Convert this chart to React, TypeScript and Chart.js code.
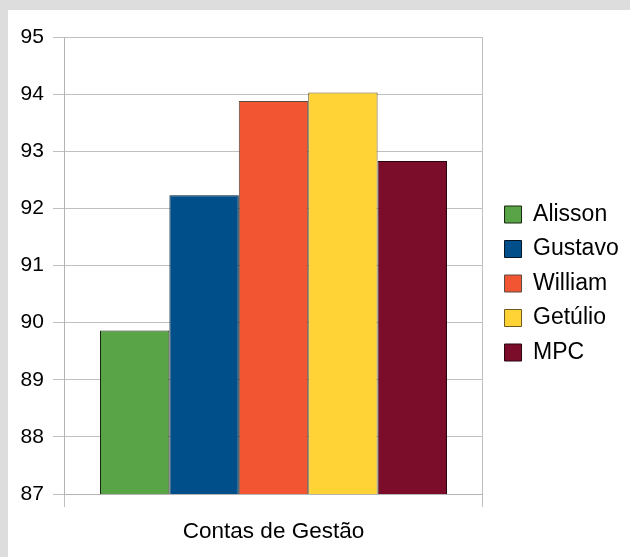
import React, { useEffect, useRef } from "react";
import { Chart, registerables } from "chart.js";

Chart.register(...registerables);

const categories: string[] = ["Contas de Gestão"];
const seriesNames: string[] = ["Alisson", "Gustavo", "William", "Getúlio", "MPC"];
const seriesValues: number[] = [89.86, 92.23, 93.88, 94.03, 92.83];
const seriesColors: string[] = ["#59a446", "#004f8a", "#f15532", "#ffd236", "#7b0c2a"];
const seriesBorders: string[] = ["#16260f", "#001526", "#5a4a42", "#6b5a20", "#2a0510"];
const yTicks: number[] = [87, 88, 89, 90, 91, 92, 93, 94, 95];

export default function App() {
  const ref = useRef<HTMLCanvasElement | null>(null);

  useEffect(() => {
    if (!ref.current) return;
    const family = "'Liberation Sans', Arial, sans-serif";
    const chart = new Chart(ref.current, {
      type: "bar",
      data: {
        labels: categories,
        datasets: seriesNames.map((name, i) => ({
          label: name,
          data: [seriesValues[i]],
          backgroundColor: seriesColors[i],
          borderColor: seriesBorders[i],
          borderWidth: 1,
          categoryPercentage: 0.832,
          barPercentage: 1.0,
        })),
      },
      options: {
        animation: false,
        responsive: false,
        maintainAspectRatio: false,
        layout: { padding: { top: 0, left: 3.6, bottom: 0, right: 1.3 } },
        plugins: {
          legend: {
            position: "right",
            maxWidth: 240,
            labels: {
              font: { family, size: 23 },
              color: "#000",
              boxWidth: 17,
              boxHeight: 17,
              padding: 11.5,
            },
          },
          tooltip: { enabled: false },
        },
        scales: {
          x: {
            grid: {
              color: "#c0c0c0",
              lineWidth: 1,
              tickLength: 13,
              offset: true,
            },
            border: { color: "#b4b4b4" },
            ticks: { font: { family, size: 22.5 }, color: "#000", padding: 11.5 },
            afterFit: (axis: any) => {
              axis.paddingLeft = 0;
              axis.paddingRight = 0;
            },
          },
          y: {
            min: yTicks[0],
            max: yTicks[yTicks.length - 1],
            afterBuildTicks: (axis: any) => {
              axis.ticks = yTicks.map((v) => ({ value: v }));
            },
            afterFit: (axis: any) => {
              axis.paddingTop = 27;
            },
            grid: { color: "#c0c0c0", lineWidth: 1, tickLength: 12 },
            border: { color: "#b4b4b4" },
            ticks: { font: { family, size: 21 }, color: "#000", padding: 9, stepSize: 1 },
          },
          gap: {
            position: "right",
            display: true,
            grid: { display: false },
            border: { display: false },
            ticks: { display: false },
            afterFit: (axis: any) => {
              axis.width = 11;
            },
          },
        },
      },
    });
    return () => chart.destroy();
  }, []);

  return (
    <div style={{ position: "fixed", left: 0, top: 0, width: 630, height: 557, background: "#dcdddc" }}>
      <div style={{ position: "absolute", left: 8, top: 10, width: 622, height: 547, background: "#ffffff" }}>
        <canvas ref={ref} width={622} height={547} style={{ display: "block" }} />
      </div>
    </div>
  );
}
